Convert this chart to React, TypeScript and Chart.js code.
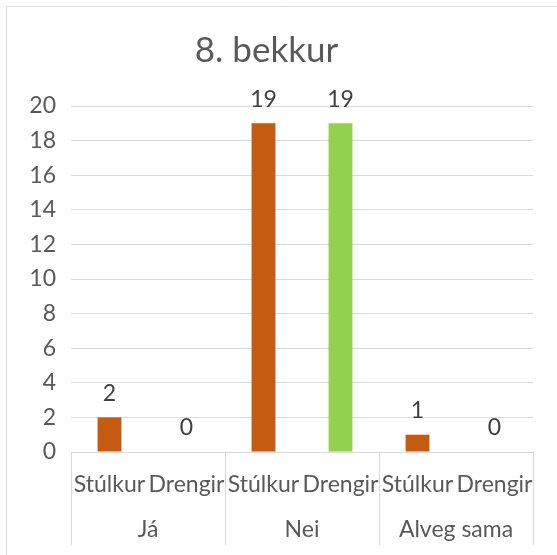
import React, { useEffect, useRef } from "react";
import { Chart, registerables } from "chart.js";

Chart.register(...registerables);

const title = "8. bekkur";
const groups = ["Já", "Nei", "Alveg sama"];
const subLabels = ["Stúlkur", "Drengir"];
const stulkur = [2, 19, 1];
const drengir = [0, 19, 0];
const yTicks = { min: 0, max: 20, step: 2 };

const ORANGE = "#C55A11";
const GREEN = "#92D050";
const GRID = "#d9d9d9";
const TEXT = "#595959";
const LABEL = "#404040";
const FONT = "Lato";

export default function App() {
  const ref = useRef<HTMLCanvasElement | null>(null);

  useEffect(() => {
    if (!ref.current) return;
    const labels: string[] = [];
    const values: number[] = [];
    const colors: string[] = [];
    groups.forEach((_, i) => {
      labels.push(subLabels[0]);
      values.push(stulkur[i]);
      colors.push(ORANGE);
      labels.push(subLabels[1]);
      values.push(drengir[i]);
      colors.push(GREEN);
    });

    const framePlugin = {
      id: "frame",
      beforeDraw(chart: any) {
        const ctx = chart.ctx;
        ctx.save();
        ctx.strokeStyle = GRID;
        ctx.lineWidth = 1;
        ctx.beginPath();
        ctx.moveTo(6.5, 555);
        ctx.lineTo(6.5, 6.5);
        ctx.lineTo(557, 6.5);
        ctx.stroke();
        ctx.restore();
      },
      afterDraw(chart: any) {
        const ctx = chart.ctx;
        const x2 = chart.scales.x2;
        const n = x2.ticks.length;
        const w = x2.width / n;
        ctx.save();
        ctx.strokeStyle = GRID;
        ctx.lineWidth = 1;
        ctx.beginPath();
        for (let i = 0; i <= n; i++) {
          const x = Math.round(x2.left + i * w) + 0.5;
          ctx.moveTo(x, chart.chartArea.bottom);
          ctx.lineTo(x, x2.bottom);
        }
        ctx.stroke();
        ctx.restore();
      },
    };

    const valuePlugin = {
      id: "values",
      afterDatasetsDraw(chart: any) {
        const ctx = chart.ctx;
        const meta = chart.getDatasetMeta(0);
        const data = chart.data.datasets[0].data as number[];
        ctx.save();
        ctx.font = `23px ${FONT}`;
        ctx.fillStyle = LABEL;
        ctx.textAlign = "center";
        ctx.textBaseline = "middle";
        meta.data.forEach((bar: any, i: number) => {
          ctx.fillText(String(data[i]), bar.x, bar.y - 24);
        });
        ctx.restore();
      },
    };

    const chart = new Chart(ref.current, {
      type: "bar",
      data: {
        labels,
        datasets: [
          {
            data: values,
            backgroundColor: colors,
            borderWidth: 0,
            barPercentage: 0.31,
            categoryPercentage: 1,
          },
        ],
      },
      options: {
        responsive: false,
        maintainAspectRatio: false,
        animation: false,
        layout: { padding: { left: 0, right: 24, top: 0, bottom: 10 } },
        plugins: {
          legend: { display: false },
          tooltip: { enabled: false },
          title: {
            display: true,
            text: title,
            color: TEXT,
            font: { family: FONT, size: 35, weight: "normal" },
            padding: { top: 30, bottom: 34 },
          },
        },
        scales: {
          y: {
            min: yTicks.min,
            max: yTicks.max,
            ticks: {
              stepSize: yTicks.step,
              color: TEXT,
              font: { family: FONT, size: 23 },
              padding: 15,
            },
            grid: { color: GRID, drawTicks: false },
            border: { display: false },
            afterFit(scale: any) {
              scale.width = 71;
            },
          },
          x: {
            type: "category",
            position: "bottom",
            ticks: {
              color: TEXT,
              font: { family: FONT, size: 23 },
              padding: 11,
              maxRotation: 0,
              autoSkip: false,
            },
            grid: { display: false },
            border: { display: false },
            afterFit(scale: any) {
              scale.height = 55;
            },
          },
          x2: {
            type: "category",
            position: "bottom",
            labels: groups,
            offset: true,
            ticks: {
              color: TEXT,
              font: { family: FONT, size: 23 },
              padding: 1,
              maxRotation: 0,
              autoSkip: false,
            },
            grid: { display: false },
            border: { display: false },
            afterFit(scale: any) {
              scale.height = 38;
            },
          },
        },
      },
      plugins: [framePlugin, valuePlugin],
    } as any);

    return () => chart.destroy();
  }, []);

  return (
    <div style={{ position: "absolute", left: 0, top: 0, width: 557, height: 555, background: "#fff" }}>
      <canvas ref={ref} width={557} height={555} style={{ display: "block" }} />
    </div>
  );
}
